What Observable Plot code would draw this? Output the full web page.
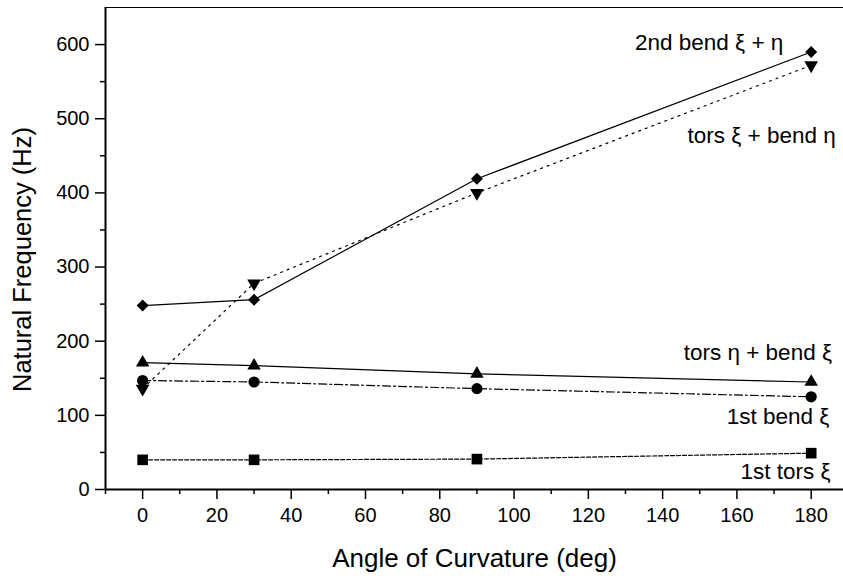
<!DOCTYPE html>
<html>
<head>
<meta charset="utf-8">
<script src="https://cdn.jsdelivr.net/npm/d3@7"></script>
<script src="https://cdn.jsdelivr.net/npm/@observablehq/plot@0.6"></script>
<style>
  html, body { margin: 0; padding: 0; background: #fff; }
  #chart svg { display: block; }
</style>
</head>
<body>
<div id="chart"></div>
<script>
const angles = [0, 30, 90, 180];
const bend2 = [248, 256, 419, 590];          // 2nd bend ξ + η
const torsXiBendEta = [136, 278, 400, 572];  // tors ξ + bend η
const torsEtaBendXi = [171, 167, 156, 145];  // tors η + bend ξ
const bend1 = [147, 145, 136, 125];          // 1st bend ξ
const tors1 = [40, 40, 41, 49];              // 1st tors ξ

const xMajorTicks = [0, 20, 40, 60, 80, 100, 120, 140, 160, 180];
const xMinorTicks = [-10, 10, 30, 50, 70, 90, 110, 130, 150, 170];
const yMajorTicks = [0, 100, 200, 300, 400, 500, 600];
const yMinorTicks = [50, 150, 250, 350, 450, 550];

const labelText = ["2nd bend \u03BE + \u03B7", "tors \u03BE + bend \u03B7", "tors \u03B7 + bend \u03BE", "1st bend \u03BE", "1st tors \u03BE"];
const labelX = [172.5, 186.6, 185.6, 184.9, 185.2];
const labelY = [603, 477, 185, 97.5, 23.3];

const series = [
  {name: "bend2", values: bend2, symbol: "diamond2", r: 5.4, dash: null},
  {name: "torsXiBendEta", values: torsXiBendEta, symbol: "triangle", r: 5.1, rotate: 180, dash: "2,5"},
  {name: "torsEtaBendXi", values: torsEtaBendXi, symbol: "triangle", r: 5.0, dash: null},
  {name: "bend1", values: bend1, symbol: "circle", r: 5.6, dash: "8,3,2,3"},
  {name: "tors1", values: tors1, symbol: "square", r: 6, dash: "4,2"}
];

const labels = labelText.map((t, i) => ({t, x: labelX[i], y: labelY[i]}));

const marks = [];
for (const s of series) {
  const data = angles.map((a, i) => ({x: a, y: s.values[i]}));
  marks.push(Plot.line(data, {x: "x", y: "y", stroke: "black", strokeWidth: 1.2, strokeDasharray: s.dash}));
}
for (const s of series) {
  const data = angles.map((a, i) => ({x: a, y: s.values[i]}));
  marks.push(Plot.dot(data, {x: "x", y: "y", symbol: () => s.symbol, r: s.r, fill: "black", stroke: "none", rotate: s.rotate || 0}));
}

const font = "'Liberation Sans', Arial, Helvetica, sans-serif";

const chart = Plot.plot({
  width: 843,
  height: 576,
  marginLeft: 105,
  marginRight: 0,
  marginTop: 7,
  marginBottom: 87,
  style: {fontFamily: font, background: "white", color: "black"},
  x: {domain: [-10, 188.7]},
  y: {domain: [0, 650]},
  marks: [
    Plot.axisX(xMajorTicks, {tickSize: 10, tickPadding: 8, fontSize: 20, label: null, tickFormat: d => String(d), strokeWidth: 1.5}),
    Plot.axisX(xMinorTicks, {tickSize: 5, label: null, tickFormat: () => "", strokeWidth: 1.5}),
    Plot.axisY(yMajorTicks, {tickSize: 10, tickPadding: 6, fontSize: 20, label: null, tickFormat: d => String(d), strokeWidth: 1.5, style: {letterSpacing: "1px"}}),
    Plot.axisY(yMinorTicks, {tickSize: 5, label: null, tickFormat: () => "", strokeWidth: 1.5}),
    Plot.ruleX([-10], {stroke: "black", strokeWidth: 2}),
    Plot.ruleY([0], {stroke: "black", strokeWidth: 2}),
    Plot.ruleY([650], {stroke: "black", strokeWidth: 1.2}),
    ...marks,
    Plot.text(labels, {x: "x", y: "y", text: "t", textAnchor: "end", fontSize: 22.5, fill: "black"}),
    Plot.text(["Angle of Curvature (deg)"], {frameAnchor: "bottom", textAnchor: "middle", lineAnchor: "middle", dy: 69, fontSize: 26, fill: "black", text: d => d}),
    Plot.text(["Natural Frequency (Hz)"], {frameAnchor: "left", textAnchor: "middle", lineAnchor: "middle", dx: -83, dy: 11, rotate: -90, fontSize: 25.5, fill: "black", text: d => d})
  ]
});
document.getElementById("chart").appendChild(chart);
</script>
</body>
</html>
